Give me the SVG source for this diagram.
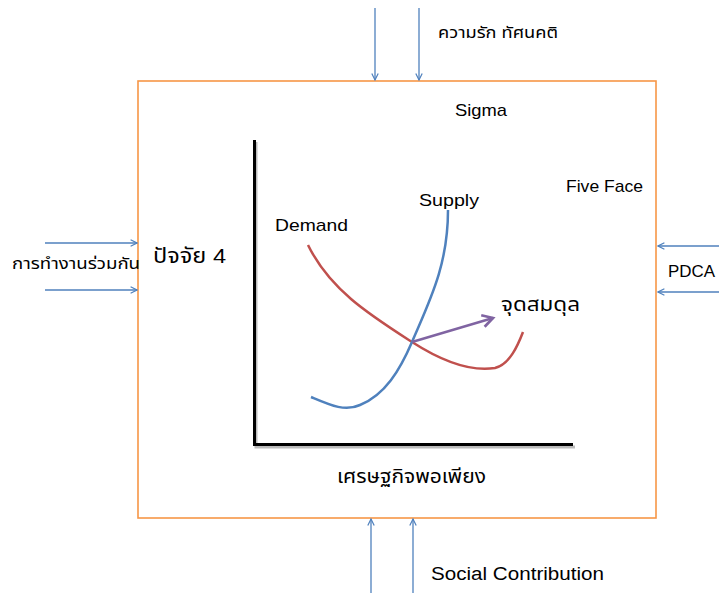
<svg xmlns="http://www.w3.org/2000/svg" width="719" height="593" viewBox="0 0 719 593">
<style>
.t{font-family:"Liberation Sans","Noto Sans","Noto Sans Thai","DejaVu Sans",sans-serif;fill:#000}
.flow{stroke:#4F81BD;stroke-width:1.3;fill:none;marker-end:url(#ah)}
.axis{stroke:#000;stroke-width:3;fill:none}
.sh{stroke:#bbb;stroke-width:3;fill:none}
</style>
<defs>
<marker id="ah" viewBox="0 0 10 10" refX="9" refY="5" markerWidth="8" markerHeight="8" markerUnits="userSpaceOnUse" orient="auto">
<path d="M1,1 L9,5 L1,9" fill="none" stroke="#4F81BD" stroke-width="1.5"/>
</marker>
<marker id="ap" viewBox="0 0 10 10" refX="8" refY="5" markerWidth="15" markerHeight="15" markerUnits="userSpaceOnUse" orient="auto">
<path d="M1,1 L8,5 L1,9" fill="none" stroke="#8064A2" stroke-width="1.8"/>
</marker>
</defs>
<rect width="719" height="593" fill="#fff"/>
<g id="frame">
<rect x="138" y="81" width="518" height="437" fill="none" stroke="#F79646" stroke-width="1.6"/>
</g>
<g id="connectors">
<line class="flow" x1="375" y1="8" x2="375" y2="80"/>
<line class="flow" x1="419" y1="8" x2="419" y2="80"/>
<line class="flow" x1="45" y1="243" x2="137" y2="243"/>
<line class="flow" x1="45" y1="290" x2="137" y2="290"/>
<line class="flow" x1="719" y1="246" x2="658" y2="246"/>
<line class="flow" x1="719" y1="292" x2="658" y2="292"/>
<line class="flow" x1="371" y1="593" x2="371" y2="519"/>
<line class="flow" x1="413" y1="593" x2="413" y2="519"/>
</g>
<g id="chart">
<path class="sh" d="M256,142 V447 H575"/>
<path class="axis" d="M254.5,140 V444.5 H573"/>
<path d="M308,245 C330,290 370,315 412,342 C440,360 470,372 495,368 C510,364 518,345 523,332" fill="none" stroke="#C0504D" stroke-width="2.5"/>
<path d="M311,397 C330,405 345,412 360,405 C385,395 400,370 412,342 C430,300 448,265 448,210" fill="none" stroke="#4F81BD" stroke-width="2.5"/>
<line x1="412" y1="342" x2="493" y2="318" stroke="#8064A2" stroke-width="2.5" marker-end="url(#ap)"/>
</g>
<g id="labels">
<text class="t" x="438" y="38" font-size="16" textLength="120" lengthAdjust="spacingAndGlyphs">ความรัก ทัศนคติ</text>
<text class="t" x="455" y="116" font-size="17" textLength="52" lengthAdjust="spacingAndGlyphs">Sigma</text>
<text class="t" x="566" y="192" font-size="17" textLength="77" lengthAdjust="spacingAndGlyphs">Five Face</text>
<text class="t" x="419" y="206" font-size="17" textLength="60" lengthAdjust="spacingAndGlyphs">Supply</text>
<text class="t" x="275" y="231" font-size="17" textLength="73" lengthAdjust="spacingAndGlyphs">Demand</text>
<text class="t" x="501" y="311" font-size="19" textLength="79" lengthAdjust="spacingAndGlyphs">จุดสมดุล</text>
<text class="t" x="153" y="263" font-size="21" textLength="73" lengthAdjust="spacingAndGlyphs">ปัจจัย 4</text>
<text class="t" x="12" y="269" font-size="15" textLength="128" lengthAdjust="spacingAndGlyphs">การทำงานร่วมกัน</text>
<text class="t" x="668" y="277" font-size="17" textLength="47" lengthAdjust="spacingAndGlyphs">PDCA</text>
<text class="t" x="337" y="483" font-size="20" textLength="149" lengthAdjust="spacingAndGlyphs">เศรษฐกิจพอเพียง</text>
<text class="t" x="431" y="580" font-size="18" textLength="173" lengthAdjust="spacingAndGlyphs">Social Contribution</text>
</g>
</svg>
